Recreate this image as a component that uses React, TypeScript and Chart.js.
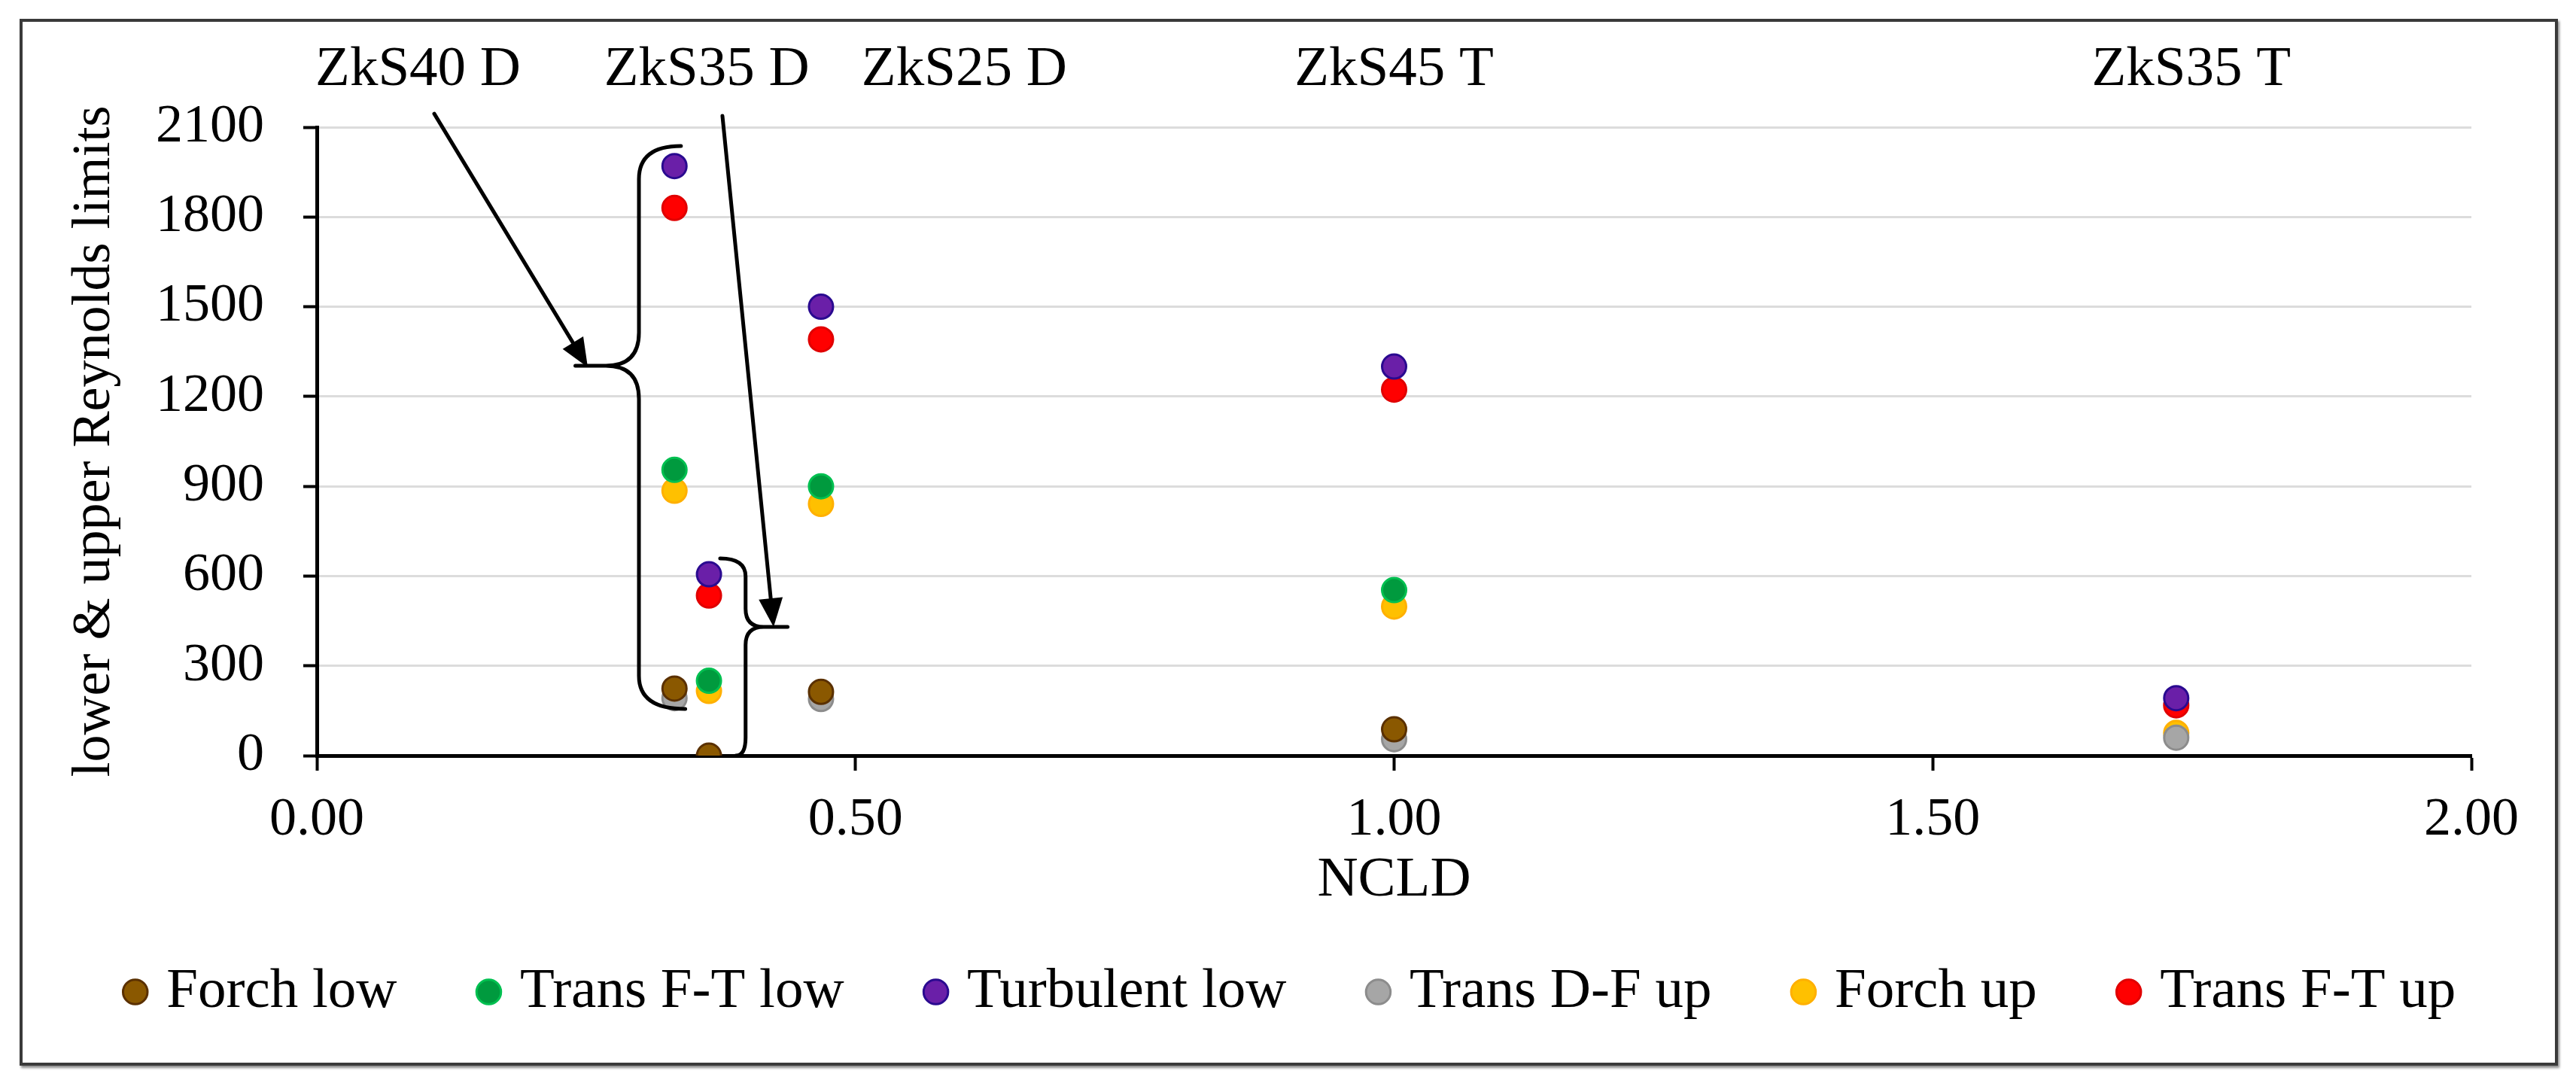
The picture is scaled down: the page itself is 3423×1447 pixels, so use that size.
import React, { useEffect, useRef } from "react";
import { Chart, registerables } from "chart.js";

Chart.register(...registerables);

// ---------- data ----------
const ncld = [0.332, 0.364, 0.468, 1.0, 1.726];
const seriesNames = ["Forch low", "Trans F-T low", "Turbulent low", "Trans D-F up", "Forch up", "Trans F-T up"];
const forchLow = [224, 0, 213, 88, null];
const transFTLow = [955, 250, 900, 553, null];
const turbulentLow = [1970, 606, 1500, 1300, 192];
const transDFUp = [192, null, 189, 55, 60];
const forchUp = [885, 216, 841, 498, 76];
const transFTUp = [1830, 535, 1391, 1223, 168];
const seriesValues = [forchLow, transFTLow, turbulentLow, transDFUp, forchUp, transFTUp];
const fillColors = ["#8a5800", "#009a3e", "#6a1fa8", "#a6a6a6", "#ffc000", "#ff0000"];
const borderColors = ["#5a3000", "#00c050", "#2a0a90", "#8c8c8c", "#ffb000", "#e00000"];

const xTickValues = [0, 0.5, 1.0, 1.5, 2.0];
const yMin = 0;
const yMax = 2100;
const yStep = 300;

// annotation labels (data coordinates)
const noteLabels = ["ZkS40 D", "ZkS35 D", "ZkS25 D", "ZkS45 T", "ZkS35 T"];
const noteX = [0.094, 0.362, 0.601, 1.0, 1.74];
const noteY = 2290;

// arrows: [x, y] start -> end (data coordinates)
const arrowFrom = [[0.109, 2145], [0.3765, 2138]];
const arrowTo = [[0.2515, 1298], [0.424, 430]];

// braces (data coordinates)
const braceSpineX = [0.299, 0.398];
const braceTipX = [0.240, 0.437];
const braceTop = [2037, 659];
const braceMid = [1303, 430];
const braceBottom = [156, 0];
const braceTopEndX = [0.338, 0.3744];
const braceBottomEndX = [0.342, 0.389];
const braceRadius = [44, 24];

const FONT = "'Liberation Serif', 'Times New Roman', Times, serif";

const annotationPlugin = {
  id: "annotationsDrawn",
  afterDraw(chart: any) {
    const { ctx, scales } = chart;
    const xs = scales.x;
    const ys = scales.y;
    const px = (v: number) => xs.getPixelForValue(v);
    const py = (v: number) => ys.getPixelForValue(v);
    ctx.save();
    ctx.fillStyle = "#000";
    ctx.font = `75px ${FONT}`;
    ctx.textAlign = "center";
    ctx.textBaseline = "middle";
    noteLabels.forEach((t, i) => ctx.fillText(t, px(noteX[i]), py(noteY)));

    ctx.strokeStyle = "#000";
    ctx.lineCap = "round";
    ctx.lineJoin = "round";
    arrowFrom.forEach((from, i) => {
      const x1 = px(from[0]);
      const y1 = py(from[1]);
      const x2 = px(arrowTo[i][0]);
      const y2 = py(arrowTo[i][1]);
      const a = Math.atan2(y2 - y1, x2 - x1);
      const L = 38;
      const W = 16;
      const bx = x2 - Math.cos(a) * L;
      const by = y2 - Math.sin(a) * L;
      ctx.lineWidth = 5;
      ctx.beginPath();
      ctx.moveTo(x1, y1);
      ctx.lineTo(bx, by);
      ctx.stroke();
      ctx.beginPath();
      ctx.moveTo(x2, y2);
      ctx.lineTo(bx + Math.sin(a) * W, by - Math.cos(a) * W);
      ctx.lineTo(bx - Math.sin(a) * W, by + Math.cos(a) * W);
      ctx.closePath();
      ctx.fill();
    });

    ctx.lineWidth = 5;
    braceSpineX.forEach((sx, i) => {
      const vx = px(sx);
      const tx = px(braceTipX[i]);
      const y0 = py(braceTop[i]);
      const ym = py(braceMid[i]);
      const y1 = py(braceBottom[i]);
      const e0 = px(braceTopEndX[i]);
      const e1 = px(braceBottomEndX[i]);
      const r = braceRadius[i];
      const d = tx < vx ? -1 : 1;
      ctx.beginPath();
      ctx.moveTo(e0, y0);
      ctx.quadraticCurveTo(vx, y0, vx, y0 + r);
      ctx.lineTo(vx, ym - r);
      ctx.quadraticCurveTo(vx, ym, vx + d * r, ym);
      ctx.lineTo(tx, ym);
      ctx.moveTo(vx + d * r, ym);
      ctx.quadraticCurveTo(vx, ym, vx, ym + r);
      ctx.lineTo(vx, y1 - r);
      ctx.quadraticCurveTo(vx, y1, e1, y1);
      ctx.stroke();
    });
    ctx.restore();
  },
};

export default function App() {
  const canvasRef = useRef<HTMLCanvasElement | null>(null);

  useEffect(() => {
    if (!canvasRef.current) return;
    Chart.defaults.font.family = FONT;
    Chart.defaults.color = "#000";

    const datasets = seriesNames.map((name, i) => ({
      label: name,
      data: ncld.map((x, j) => ({ x, y: seriesValues[i][j] })),
      backgroundColor: fillColors[i],
      borderColor: borderColors[i],
      pointBackgroundColor: fillColors[i],
      pointBorderColor: borderColors[i],
      borderWidth: 3,
      pointRadius: 16,
      pointHoverRadius: 16,
      pointBorderWidth: 3,
      pointStyle: "circle",
      showLine: false,
    }));

    const chart = new Chart(canvasRef.current, {
      type: "scatter",
      data: { datasets },
      plugins: [annotationPlugin],
      options: {
        animation: false,
        responsive: false,
        devicePixelRatio: 1,
        layout: { padding: { left: 16, right: 0, top: 161, bottom: 73.5 } },
        plugins: {
          tooltip: { enabled: false },
          legend: {
            position: "bottom",
            labels: {
              usePointStyle: true,
              pointStyle: "circle",
              boxWidth: 8,
              boxHeight: 23,
              padding: 118,
              color: "#000",
              font: { size: 75, family: FONT },
            },
          },
        },
        scales: {
          x: {
            type: "linear",
            min: 0,
            max: 2,
            afterBuildTicks: (scale: any) => {
              scale.ticks = xTickValues.map((v) => ({ value: v }));
            },
            afterFit: (scale: any) => {
              scale.height = 158.5;
            },
            ticks: {
              padding: 23,
              color: "#000",
              font: { size: 72, family: FONT },
              callback: (v: any) => Number(v).toFixed(2),
            },
            grid: {
              display: true,
              drawOnChartArea: false,
              drawTicks: true,
              tickLength: 20,
              tickColor: "#000",
              tickWidth: 4,
            },
            border: { display: true, color: "#000", width: 5 },
            title: {
              display: true,
              text: "NCLD",
              color: "#000",
              font: { size: 75, family: FONT },
              padding: { top: 0, bottom: -52.5 },
            },
          },
          y: {
            type: "linear",
            position: "left",
            min: yMin,
            max: yMax,
            afterFit: (scale: any) => {
              scale.width = 397;
            },
            ticks: {
              stepSize: yStep,
              padding: 52,
              color: "#000",
              font: { size: 72, family: FONT },
              callback: (v: any) => String(v),
            },
            grid: {
              color: "#dcdcdc",
              lineWidth: 3,
              drawTicks: true,
              tickLength: 18,
              tickColor: "#000",
              tickWidth: 4,
            },
            border: { display: true, color: "#000", width: 5 },
            title: {
              display: true,
              text: "lower & upper Reynolds limits",
              color: "#000",
              font: { size: 72, family: FONT },
              padding: { top: 58.8, bottom: 0 },
            },
          },
          y2: {
            type: "linear",
            position: "right",
            min: yMin,
            max: yMax,
            display: true,
            afterFit: (scale: any) => {
              scale.width = 131;
            },
            ticks: { display: false },
            grid: { display: false, drawTicks: false },
            border: { display: false },
          },
        },
      },
    } as any);

    return () => chart.destroy();
  }, []);

  return (
    <div style={{ position: "relative", width: 3407, height: 1431 }}>
      <canvas
        ref={canvasRef}
        width={3407}
        height={1431}
        style={{ position: "absolute", left: 0, top: 0, width: 3407, height: 1431, display: "block" }}
      />
      <div
        style={{
          position: "absolute",
          left: 18,
          top: 17,
          width: 3373,
          height: 1391,
          boxSizing: "border-box",
          border: "4px solid #3a3a3a",
          boxShadow: "2px 3px 3px rgba(0,0,0,0.45)",
          pointerEvents: "none",
        }}
      />
    </div>
  );
}
